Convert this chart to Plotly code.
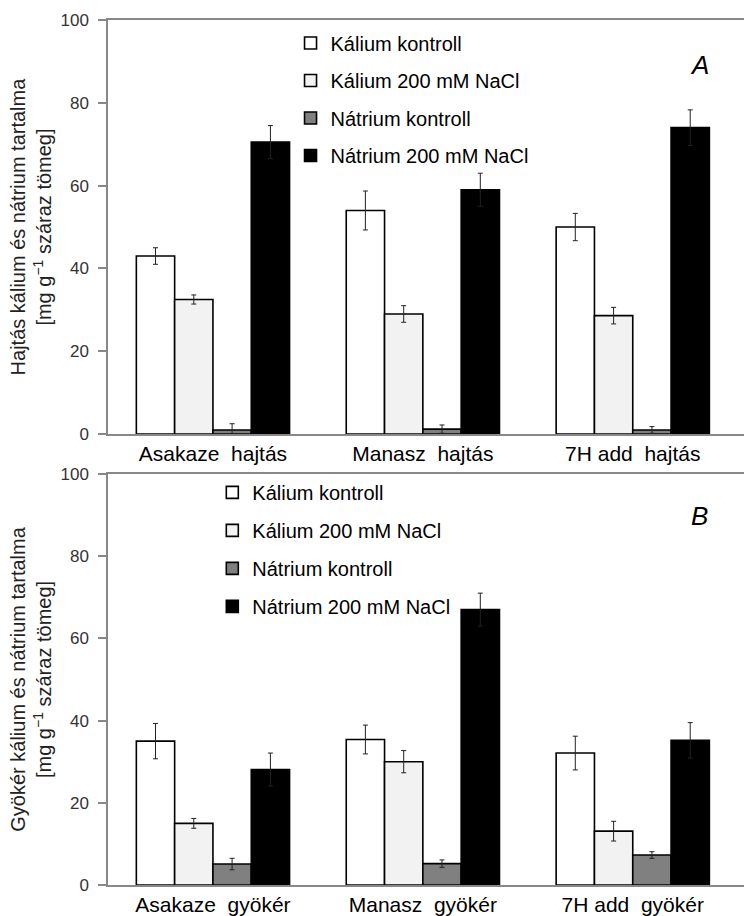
import plotly.graph_objects as go
from plotly.subplots import make_subplots

series_names = ["Kálium kontroll", "Kálium 200 mM NaCl", "Nátrium kontroll", "Nátrium 200 mM NaCl"]
series_colors = ["#ffffff", "#f2f2f2", "#808080", "#000000"]

cats_a = ["Asakaze  hajtás", "Manasz  hajtás", "7H add  hajtás"]
vals_a = [
    [43.0, 54.0, 50.0],
    [32.5, 29.0, 28.6],
    [1.0, 1.2, 1.0],
    [70.5, 59.0, 74.0],
]
errs_a = [
    [2.0, 4.7, 3.3],
    [1.1, 2.0, 2.0],
    [1.5, 1.0, 0.8],
    [4.0, 4.0, 4.3],
]

cats_b = ["Asakaze  gyökér", "Manasz  gyökér", "7H add  gyökér"]
vals_b = [
    [35.0, 35.4, 32.1],
    [15.0, 30.0, 13.1],
    [5.1, 5.2, 7.3],
    [28.1, 67.0, 35.2],
]
errs_b = [
    [4.3, 3.5, 4.1],
    [1.2, 2.7, 2.4],
    [1.4, 0.9, 0.8],
    [4.0, 4.0, 4.3],
]

yticks = [0, 20, 40, 60, 80, 100]
ytitle_a = "Hajtás kálium és nátrium tartalma<br>[mg g<sup>−1</sup> száraz tömeg]"
ytitle_b = "Gyökér kálium és nátrium tartalma<br>[mg g<sup>−1</sup> száraz tömeg]"

FONT = "Liberation Sans, Arial, sans-serif"

fig = make_subplots(rows=2, cols=1)

for i, name in enumerate(series_names):
    fig.add_trace(go.Bar(
        x=cats_a, y=vals_a[i], name=name,
        marker=dict(color=series_colors[i], line=dict(color="#000000", width=1.6)),
        error_y=dict(type="data", array=errs_a[i], color="#222222", thickness=1, width=2.5),
        legend="legend", legendgroup="a%d" % i,
    ), row=1, col=1)
for i, name in enumerate(series_names):
    fig.add_trace(go.Bar(
        x=cats_b, y=vals_b[i], name=name,
        marker=dict(color=series_colors[i], line=dict(color="#000000", width=1.6)),
        error_y=dict(type="data", array=errs_b[i], color="#222222", thickness=1, width=2.5),
        legend="legend2", legendgroup="b%d" % i,
    ), row=2, col=1)

xax = dict(showline=True, mirror=True, linecolor="#888888", linewidth=1.5,
           ticks="", showgrid=False, tickfont=dict(size=21, color="#000000", family=FONT),
           range=[-0.5, 2.53])
yax = dict(showline=True, linecolor="#888888", linewidth=1.5, ticks="outside",
           ticklen=8, tickcolor="#888888", tickwidth=1.5, showgrid=False, zeroline=False,
           ticklabelstandoff=6,
           range=[0, 100], tickvals=yticks, tickfont=dict(size=17, color="#333333", family=FONT))

fig.update_layout(
    width=744, height=916,
    margin=dict(l=108, r=0, t=20, b=29),
    plot_bgcolor="#ffffff", paper_bgcolor="#ffffff",
    barmode="group", bargap=0.27, bargroupgap=0,
    font=dict(family=FONT, color="#000000"),
    xaxis=dict(domain=[0, 1], **xax),
    xaxis2=dict(domain=[0, 1], **xax),
    yaxis=dict(domain=[0.5213, 1],
               title=dict(text=ytitle_a, font=dict(size=20, color="#222222"), standoff=3), **yax),
    yaxis2=dict(domain=[0, 0.4752],
                title=dict(text=ytitle_b, font=dict(size=20, color="#222222"), standoff=3), **yax),
    legend=dict(x=0.287, y=0.996, xanchor="left", yanchor="top", bgcolor="rgba(0,0,0,0)",
                font=dict(size=20, color="#000000"), tracegroupgap=8.5, itemwidth=30),
    legend2=dict(x=0.164, y=0.4764, xanchor="left", yanchor="top", bgcolor="rgba(0,0,0,0)",
                 font=dict(size=20, color="#000000"), tracegroupgap=9, itemwidth=30),
    annotations=[
        dict(text="<i>A</i>", x=0.93, y=0.948, xref="paper", yref="paper", showarrow=False,
             xanchor="center", yanchor="middle", font=dict(size=26, color="#000000")),
        dict(text="<i>B</i>", x=0.93, y=0.427, xref="paper", yref="paper", showarrow=False,
             xanchor="center", yanchor="middle", font=dict(size=26, color="#000000")),
    ],
)

fig.write_html("out.html")
